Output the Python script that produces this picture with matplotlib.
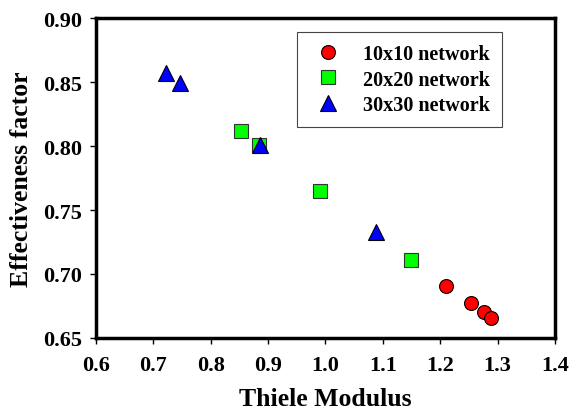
import numpy as np
import matplotlib.pyplot as plt

plt.rcParams['font.family'] = ['Liberation Serif', 'DejaVu Serif']
plt.rcParams['font.weight'] = 'bold'

# data
x_10 = [1.21, 1.253, 1.277, 1.288]
y_10 = [0.691, 0.677, 0.670, 0.666]

x_20 = [0.853, 0.884, 0.99, 1.149]
y_20 = [0.812, 0.801, 0.765, 0.711]

x_30 = [0.722, 0.746, 0.886, 1.088]
y_30 = [0.857, 0.849, 0.801, 0.733]

xticks = [0.6, 0.7, 0.8, 0.9, 1.0, 1.1, 1.2, 1.3, 1.4]
yticks = [0.65, 0.70, 0.75, 0.80, 0.85, 0.90]

fig = plt.figure(figsize=(5.69, 4.14), dpi=100)
ax = fig.add_axes([0.1687, 0.1812, 0.9754 - 0.1687, 0.954 - 0.1812])

ax.plot(x_10, y_10, 'o', color='red', markeredgecolor='black', markeredgewidth=0.8,
        markersize=10, label='10x10 network')
ax.plot(x_20, y_20, 's', color='#00ff00', markeredgecolor='#333333', markeredgewidth=0.8,
        markersize=9.5, label='20x20 network')
ax.plot(x_30, y_30, '^', color='blue', markeredgecolor='black', markeredgewidth=0.8,
        markersize=11, label='30x30 network')

ax.set_xlim(0.6, 1.4)
ax.set_ylim(0.65, 0.90)
ax.set_xticks(xticks)
ax.set_xticklabels(['%.1f' % v for v in xticks])
ax.set_yticks(yticks)
ax.set_yticklabels(['%.2f' % v for v in yticks])
ax.tick_params(direction='out', length=4, width=1, labelsize=16)
ax.tick_params(axis='x', pad=8)
ax.tick_params(axis='y', pad=6)

for s in ax.spines.values():
    s.set_linewidth(2.5)

ax.set_xlabel('Thiele Modulus', fontsize=18.5, fontweight='bold')
ax.xaxis.label.set_va('baseline')
ax.xaxis.set_label_coords(0.5, -0.21)
ax.set_ylabel('Effectiveness factor', fontsize=18.5, fontweight='bold')
ax.yaxis.label.set_va('center')
ax.yaxis.set_label_coords(-0.163, 0.5)

leg = ax.legend(loc='upper left', bbox_to_anchor=(0.437, 0.957), fontsize=14.5,
                frameon=True, fancybox=False, edgecolor='#444444', framealpha=1,
                borderpad=0.6, handletextpad=0.8, labelspacing=0.28, borderaxespad=0,
                handlelength=1.9)
leg.get_frame().set_linewidth(0.8)

fig.savefig('out.png', dpi=100)
